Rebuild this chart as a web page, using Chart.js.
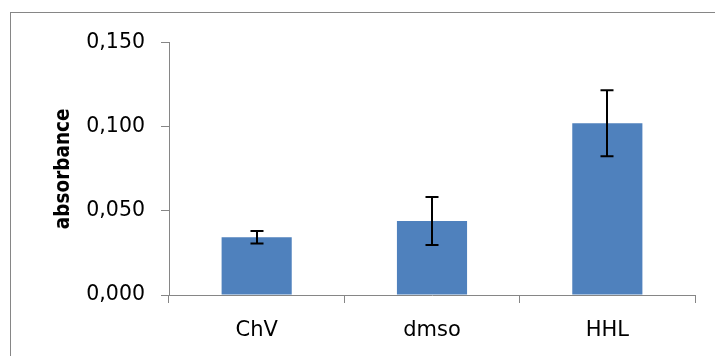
<!DOCTYPE html>
<html>
<head>
<meta charset="utf-8">
<script src="https://cdn.jsdelivr.net/npm/chart.js@4/dist/chart.umd.min.js"></script>
<style>
  html, body { margin: 0; padding: 0; background: #ffffff; }
  #wrap { width: 715px; height: 356px; }
</style>
</head>
<body>
<div id="wrap"><canvas id="chart" width="715" height="356"></canvas></div>
<script>
// Mean absorbance per sample with its standard error
const categories = ['ChV', 'dmso', 'HHL'];
const absorbance = [0.0343, 0.0440, 0.1021];
const errors = [0.0037, 0.0142, 0.0196];
const yTickValues = [0, 0.05, 0.1, 0.15];

const axisGray = '#868686';
const barBlue = '#4F81BD';

// Outer frame around the chart object
const framePlugin = {
  id: 'frame',
  beforeDraw(chart) {
    const ctx = chart.ctx;
    ctx.save();
    ctx.fillStyle = '#ffffff';
    ctx.fillRect(0, 0, chart.width, chart.height);
    ctx.strokeStyle = axisGray;
    ctx.lineWidth = 1;
    ctx.strokeRect(10.5, 12.5, 900, 600);
    ctx.restore();
  }
};

// Symmetric error bars with flat caps
const errorBarPlugin = {
  id: 'errorBars',
  afterDatasetsDraw(chart) {
    const ctx = chart.ctx;
    const yScale = chart.scales.y;
    const meta = chart.getDatasetMeta(0);
    ctx.save();
    ctx.strokeStyle = '#000000';
    ctx.lineWidth = 2;
    meta.data.forEach((bar, i) => {
      const x = Math.round(bar.x);
      const yHi = yScale.getPixelForValue(absorbance[i] + errors[i]);
      const yLo = yScale.getPixelForValue(absorbance[i] - errors[i]);
      const cap = 6.5;
      ctx.beginPath();
      ctx.moveTo(x, yHi);
      ctx.lineTo(x, yLo);
      ctx.moveTo(x - cap, yHi);
      ctx.lineTo(x + cap, yHi);
      ctx.moveTo(x - cap, yLo);
      ctx.lineTo(x + cap, yLo);
      ctx.stroke();
    });
    ctx.restore();
  }
};

new Chart(document.getElementById('chart'), {
  type: 'bar',
  data: {
    labels: categories,
    datasets: [{
      data: absorbance,
      backgroundColor: barBlue,
      borderWidth: 0,
      barPercentage: 0.4,
      categoryPercentage: 1.0
    }]
  },
  options: {
    responsive: false,
    devicePixelRatio: 1,
    animation: false,
    layout: { padding: { left: 0, top: 42.7, right: 20, bottom: 0 } },
    plugins: {
      legend: { display: false },
      tooltip: { enabled: false }
    },
    scales: {
      x: {
        offset: true,
        grid: {
          display: true,
          offset: true,
          drawOnChartArea: false,
          drawTicks: true,
          tickLength: 8,
          color: axisGray
        },
        border: { display: true, color: axisGray, width: 1 },
        ticks: {
          color: '#000000',
          padding: 15,
          font: { family: 'DejaVu Sans', size: 21 },
          maxRotation: 0
        },
        afterFit(scale) { scale.height = 61; }
      },
      y: {
        min: 0,
        max: 0.15,
        grid: {
          display: true,
          drawOnChartArea: false,
          drawTicks: true,
          tickLength: 8,
          color: axisGray
        },
        border: { display: true, color: axisGray, width: 1 },
        afterBuildTicks(scale) {
          scale.ticks = yTickValues.map(v => ({ value: v }));
        },
        ticks: {
          color: '#000000',
          padding: 16,
          font: { family: 'DejaVu Sans', size: 20.5 },
          callback: (v) => Number(v).toFixed(3).replace('.', ',')
        },
        title: {
          display: true,
          text: 'absorbance',
          color: '#000000',
          font: { family: '"DejaVu Sans Condensed", "DejaVu Sans"', size: 20.5, weight: 'bold' },
          padding: { top: 51.5, bottom: 0 }
        },
        afterFit(scale) { scale.width = 169; }
      }
    }
  },
  plugins: [framePlugin, errorBarPlugin]
});
</script>
</body>
</html>
